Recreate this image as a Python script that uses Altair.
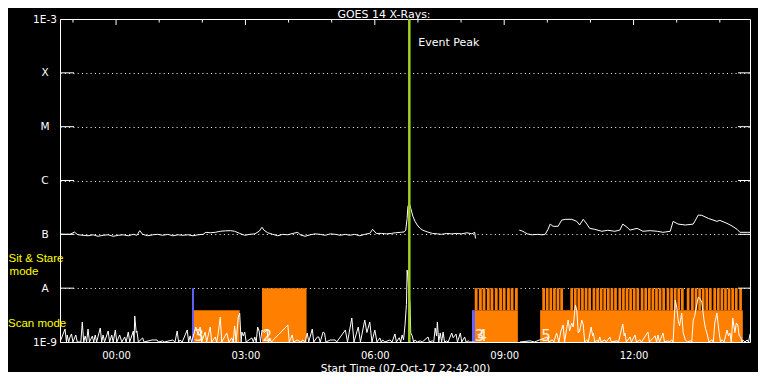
import math
import altair as alt
import pandas as pd

# ---------------- data (time = minutes after 07-Oct-17 22:42:00) ----------------
TITLE = "GOES 14 X-Rays:"
X_TITLE = "Start Time (07-Oct-17 22:42:00)"
x_domain = [0, 960]
x_tick_minutes = [78, 258, 438, 618, 798]
x_tick_labels = ["00:00", "03:00", "06:00", "09:00", "12:00"]
hour_tick_minutes = [18, 138, 198, 318, 378, 498, 558, 678, 738, 858, 918]

y_levels = [1e-9, 1e-8, 1e-7, 1e-6, 1e-5, 1e-4, 1e-3]
y_level_labels = ["1E-9", "A", "B", "C", "M", "X", "1E-3"]
inner_levels = [1e-8, 1e-7, 1e-6, 1e-5, 1e-4]

# long channel (1-8 A): (minute, flux in 1e-7 W/m2); None marks a data gap
long_points = [
    (0, 1.01), (7, 1.0), (14, 1.0), (20, 1.10), (25, 0.98), (32, 0.96), (39, 0.94), (46, 0.98),
    (53, 0.92), (60, 0.96), (67, 0.98), (74, 0.92), (81, 0.96), (88, 0.98), (95, 0.94), (102, 1.0),
    (107, 0.96), (111, 1.17), (115, 1.0), (122, 0.94), (129, 0.98), (136, 1.0), (143, 0.96),
    (150, 1.0), (157, 0.94), (164, 0.98), (171, 0.96), (178, 0.98), (185, 0.94), (192, 0.98),
    (199, 1.0), (203, 1.09), (209, 1.07), (216, 1.09), (223, 1.14), (230, 1.16), (237, 1.17),
    (243, 1.14), (250, 1.04), (257, 0.96), (264, 1.0), (271, 1.02), (277, 1.14), (281, 1.35),
    (284, 1.19), (289, 1.07), (296, 1.0), (303, 0.94), (310, 1.0), (317, 0.98), (324, 1.04),
    (331, 1.09), (334, 0.98), (341, 0.92), (348, 0.98), (355, 1.02), (362, 1.0), (369, 0.96),
    (376, 1.02), (383, 1.0), (390, 0.96), (397, 1.0), (403, 0.96), (410, 1.0), (417, 0.94),
    (424, 1.0), (431, 1.04), (435, 1.24), (440, 1.04), (447, 1.04), (454, 1.02), (461, 1.04),
    (467, 1.07), (474, 1.09), (479, 1.11), (481, 1.2), (483, 1.98), (484, 3.3), (486, 3.76),
    (488, 3.04), (491, 2.16), (494, 1.74), (497, 1.49), (501, 1.29), (505, 1.19), (511, 1.11),
    (518, 1.04), (525, 1.02), (531, 1.0), (538, 1.04), (545, 1.02), (552, 1.04), (559, 1.02),
    (566, 1.07), (573, 1.02), (577, 1.09), (578, 0.84),
    None,
    (639, 1.2), (644, 1.14), (650, 1.02), (657, 0.98), (664, 1.0), (671, 0.98), (675, 1.0),
    (679, 1.24), (682, 1.55), (686, 1.41), (693, 1.41), (698, 1.84), (703, 1.9), (712, 1.9),
    (719, 1.74), (723, 1.49), (728, 1.9), (733, 1.55), (737, 1.29), (744, 1.24), (754, 1.14),
    (762, 1.19), (772, 1.14), (779, 1.2), (783, 1.55), (789, 1.35), (793, 1.2), (803, 1.29),
    (811, 1.14), (821, 1.17), (831, 1.14), (839, 1.09), (849, 1.14), (853, 1.74), (860, 1.55),
    (870, 1.49), (881, 1.55), (888, 2.28), (893, 2.25), (902, 1.98), (914, 1.74), (918, 1.82),
    (928, 1.6), (935, 1.43), (942, 1.24), (946, 1.09), (957, 1.09), (960, 1.09),
]

# short channel (0.5-4 A): (minute, flux in 1e-9 W/m2); None marks a data gap
short_points = [
    (0, 0.8), (7, 1.74), (9, 0.8), (10, 1.35), (12, 0.8), (14, 1.24), (16, 1.41), (18, 0.8),
    (22, 1.35), (24, 0.8), (29, 0.8), (31, 2.35), (33, 0.8), (35, 1.29), (37, 0.8), (39, 1.74),
    (41, 0.8), (45, 1.29), (47, 0.8), (49, 1.35), (51, 0.8), (56, 1.82), (58, 0.8), (60, 1.35),
    (62, 0.8), (67, 1.6), (69, 0.8), (72, 1.35), (74, 0.8), (77, 1.67), (79, 0.8), (83, 1.35),
    (86, 0.8), (90, 1.24), (92, 0.8), (95, 1.53), (97, 0.8), (102, 1.6), (103, 0.8), (104, 3.04),
    (106, 1.5), (107, 1.6), (109, 0.8), (115, 1.19), (117, 0.8), (128, 1.09), (135, 1.09),
    (137, 0.8), (143, 1.05), (145, 0.8), (157, 1.09), (160, 0.8), (163, 1.6), (165, 0.8),
    (167, 1.09), (170, 0.8), (177, 1.67), (179, 0.8), (181, 1.3), (183, 0.8), (189, 1.9),
    (192, 1.4), (195, 1.9), (197, 0.8), (202, 1.53), (204, 0.8), (209, 1.9), (211, 0.8),
    (216, 1.24), (218, 0.8), (220, 1.4), (223, 2.91), (225, 0.8), (232, 1.47), (235, 0.8),
    (239, 1.19), (241, 0.8), (243, 1.98), (245, 0.8), (248, 2.91), (250, 3.45), (252, 0.8),
    (253, 1.53), (255, 1.3), (257, 1.53), (259, 0.8), (267, 1.19), (269, 0.8), (271, 1.24),
    (273, 0.8), (275, 1.9), (277, 1.6), (279, 0.8), (281, 1.67), (284, 1.5), (288, 1.67),
    (290, 0.8), (292, 1.19), (294, 0.8), (317, 2.07), (319, 0.8), (323, 1.35), (325, 0.8),
    (330, 1.09), (335, 0.8), (338, 1.09), (341, 0.8), (344, 1.47), (346, 0.8), (351, 1.74),
    (353, 0.8), (358, 1.24), (360, 1.24), (362, 0.8), (366, 1.53), (368, 1.47), (370, 0.8),
    (376, 1.09), (383, 1.09), (385, 0.8), (397, 1.67), (400, 0.8), (406, 2.79), (409, 0.8),
    (415, 1.9), (418, 0.8), (424, 2.56), (427, 1.5), (431, 2.35), (434, 0.8), (438, 1.67),
    (441, 0.8), (445, 1.19), (447, 0.8), (449, 1.09), (452, 0.8), (459, 1.09), (462, 0.8),
    (466, 1.41), (468, 0.8), (472, 1.2), (474, 0.8), (476, 1.35), (478, 1.1), (480, 2.07),
    (482, 5.0), (483, 21.7), (484, 16.1), (485, 9.2), (487, 5.0), (488, 1.47), (490, 1.3),
    (492, 0.8), (494, 1.09), (497, 0.8), (501, 1.05), (504, 0.8), (512, 1.24), (514, 0.8),
    (518, 1.05), (520, 0.8), (522, 1.82), (524, 1.3), (525, 2.35), (527, 0.8), (529, 1.47),
    (531, 0.8), (533, 1.53), (535, 0.8), (538, 1.05), (540, 0.8), (545, 1.47), (547, 1.2),
    (549, 1.3), (551, 1.4), (553, 0.8), (557, 1.47), (559, 0.8), (563, 1.24), (565, 0.8),
    (568, 1.05), (570, 0.8), (577, 0.8),
    None,
    (640, 0.8), (654, 1.05), (660, 0.8), (678, 1.24), (680, 0.8), (685, 1.1), (687, 0.8),
    (691, 1.47), (694, 0.8), (697, 1.6), (700, 2.07), (702, 0.8), (705, 1.8), (707, 2.56),
    (709, 1.6), (712, 2.25), (714, 1.9), (717, 4.86), (719, 3.92), (721, 1.47), (723, 1.6),
    (726, 2.56), (728, 2.07), (730, 0.8), (733, 1.1), (735, 0.8), (739, 1.9), (741, 1.3),
    (742, 1.47), (744, 0.8), (747, 1.09), (749, 0.8), (751, 1.24), (753, 0.8), (758, 1.1),
    (760, 0.8), (765, 1.24), (767, 0.8), (775, 1.05), (777, 0.8), (783, 2.16), (785, 1.3),
    (786, 1.47), (788, 0.8), (793, 1.24), (795, 0.8), (800, 1.35), (802, 0.8), (807, 1.1),
    (809, 0.8), (818, 1.53), (820, 0.8), (828, 1.3), (830, 0.8), (832, 1.35), (834, 0.8),
    (839, 1.47), (841, 0.8), (846, 1.05), (848, 0.8), (851, 1.1), (853, 0.8), (856, 6.0),
    (858, 4.46), (860, 2.56), (862, 2.0), (865, 3.45), (867, 1.5), (870, 1.1), (873, 0.8),
    (877, 1.05), (879, 0.8), (881, 2.56), (883, 3.0), (885, 4.27), (888, 6.8), (890, 6.5),
    (893, 5.5), (896, 2.56), (898, 1.8), (900, 1.47), (903, 0.8), (907, 1.1), (909, 0.8),
    (911, 2.25), (914, 3.45), (915, 2.56), (917, 1.5), (919, 0.8), (921, 1.1), (924, 0.8),
    (928, 1.67), (930, 1.3), (932, 1.47), (934, 0.8), (936, 2.79), (939, 1.5), (941, 2.25),
    (943, 2.07), (945, 1.3), (947, 1.24), (949, 0.8), (950, 1.09), (953, 0.8), (956, 1.09),
    (958, 0.8), (960, 1.41),
]

# observing-mode blocks (start, end minute)
scan_blocks = [(186, 250), (577, 637), (668, 950)]
stare_blocks = [(281, 343)]
scan_top = 3.9e-9
stare_top = 1e-8
switch_markers = [(183.7, 186.4, 1e-8), (573.2, 577.4, 3.9e-9)]
stripes_a = [577, 583, 588, 594, 599, 605, 611, 616, 622, 627, 633]
stripes_b = [671, 676, 681, 686, 691, 696, 710, 715, 720, 725, 730, 735, 741, 746, 751, 756,
             761, 766, 771, 777, 782, 787, 792, 797, 802, 808, 813, 818, 823, 828, 833, 838,
             844, 849, 854, 859, 864, 872, 878, 883, 888, 893, 898, 903, 909, 914, 919, 924,
             929, 934, 939, 945]
block_numbers = [(186, "3"), (281, "2"), (576.5, "3"), (580, "4"), (669, "5")]
event_peak_minute = 486

# ---------------- styles ----------------
ORANGE = "#ff8000"
BLUE = "#6464ff"
YELLOW = "#ffff00"
EVENT = "#a0d020"
FONT = "DejaVu Sans"
W, H = 690, 323


def to_frame(points, unit):
    rows, seg = [], 0
    for p in points:
        if p is None:
            seg += 1
            continue
        rows.append({"t": p[0], "flux": p[1] * unit, "seg": seg})
    return pd.DataFrame(rows)


long_df = to_frame(long_points, 1e-7)
short_df = to_frame(short_points, 1e-9)

rects = [{"x0": a, "x1": b, "y0": 1e-9, "y1": scan_top} for a, b in scan_blocks]
rects += [{"x0": a, "x1": b, "y0": 1e-9, "y1": stare_top} for a, b in stare_blocks]
rects += [{"x0": s, "x1": s + 3.9, "y0": scan_top, "y1": stare_top} for s in stripes_a]
rects += [{"x0": s, "x1": s + 3.75, "y0": scan_top, "y1": stare_top} for s in stripes_b]
rect_df = pd.DataFrame(rects)
blue_df = pd.DataFrame([{"x0": a, "x1": b, "y0": 1e-9, "y1": top} for a, b, top in switch_markers])
num_df = pd.DataFrame([{"t": t, "label": l, "y": 1e-9} for t, l in block_numbers])

x_expr = " : ".join(f"datum.value == {m} ? '{l}'" for m, l in zip(x_tick_minutes, x_tick_labels)) + " : ''"
y_expr = " : ".join(
    f"round(log(datum.value) / LN10) == {round(math.log10(v))} ? '{l}'"
    for v, l in zip(y_levels, y_level_labels)
) + " : ''"

xs = alt.Scale(domain=x_domain, nice=False, zero=False)
ys = alt.Scale(type="log", domain=[1e-9, 1e-3], nice=False, clamp=True)

X_AXIS = alt.Axis(values=x_tick_minutes, labelExpr=x_expr, ticks=False, domain=False, grid=False,
                  labelColor="white", labelFont=FONT, labelFontSize=10, labelPadding=8,
                  title=X_TITLE, titleColor="white", titleFont=FONT, titleFontSize=10.5,
                  titleFontWeight="normal", titlePadding=3)
Y_AXIS = alt.Axis(values=y_levels, labelExpr=y_expr, ticks=False, domain=False, grid=True,
                  gridColor="white", gridDash=[1, 3.3], gridOpacity=1, gridWidth=1,
                  labelColor="white", labelFont=FONT, labelFontSize=10.5, labelAlign="center",
                  labelBaseline="middle", labelPadding=15.5, title=None)


def X(field):
    return alt.X(field, scale=xs, axis=X_AXIS)


def Y(field):
    return alt.Y(field, scale=ys, axis=Y_AXIS)


modes = alt.Chart(rect_df).mark_rect(color=ORANGE).encode(
    x=X("x0:Q"), x2="x1:Q", y=Y("y0:Q"), y2="y1:Q")
blues = alt.Chart(blue_df).mark_rect(color=BLUE).encode(
    x=X("x0:Q"), x2="x1:Q", y=Y("y0:Q"), y2="y1:Q")
nums = alt.Chart(num_df).mark_text(align="left", baseline="alphabetic", dx=0.5, dy=-1,
                                   font=FONT, fontSize=15, color="#fff0e0").encode(
    x=X("t:Q"), y=Y("y:Q"), text="label:N")

level_df = pd.DataFrame({"level": inner_levels})
left_ticks = alt.Chart(level_df).mark_rule(color="white").encode(
    x=alt.value(0), x2=alt.value(14), y=Y("level:Q"))
right_ticks = alt.Chart(level_df).mark_rule(color="white").encode(
    x=alt.value(W - 12), x2=alt.value(W), y=Y("level:Q"))
top_major = alt.Chart(pd.DataFrame({"t": x_tick_minutes})).mark_rule(color="white").encode(
    x=X("t:Q"), y=alt.value(0), y2=alt.value(6))
top_minor = alt.Chart(pd.DataFrame({"t": hour_tick_minutes})).mark_rule(color="white").encode(
    x=X("t:Q"), y=alt.value(0), y2=alt.value(3.5))

short_line = alt.Chart(short_df).mark_line(color="white", strokeWidth=1, clip=True).encode(
    x=X("t:Q"), y=Y("flux:Q"), detail="seg:N")
long_line = alt.Chart(long_df).mark_line(color="white", strokeWidth=1, clip=True).encode(
    x=X("t:Q"), y=Y("flux:Q"), detail="seg:N")

ev_df = pd.DataFrame({"t": [event_peak_minute], "label": ["Event Peak"]})
ev_line = alt.Chart(ev_df).mark_rule(color=EVENT, strokeWidth=2.5).encode(x=X("t:Q"))
ev_text = alt.Chart(ev_df).mark_text(align="left", baseline="middle", dx=9, font=FONT,
                                     fontSize=11, color="white").encode(
    x=X("t:Q"), y=alt.value(24), text="label:N")

note_df = pd.DataFrame({"txt": [TITLE]})
title_text = alt.Chart(note_df).mark_text(align="center", baseline="alphabetic", font=FONT,
                                          fontSize=11, color="white").encode(
    x=alt.value(324), y=alt.value(-1.5), text="txt:N")
ss1 = alt.Chart(pd.DataFrame({"txt": ["Sit & Stare"]})).mark_text(
    align="center", baseline="middle", font="Liberation Sans", fontSize=11.5, color=YELLOW).encode(
    x=alt.value(-24), y=alt.value(240), text="txt:N")
ss2 = alt.Chart(pd.DataFrame({"txt": ["mode"]})).mark_text(
    align="center", baseline="middle", font="Liberation Sans", fontSize=11.5, color=YELLOW).encode(
    x=alt.value(-36), y=alt.value(252.5), text="txt:N")
scan_lbl = alt.Chart(pd.DataFrame({"txt": ["Scan mode"]})).mark_text(
    align="left", baseline="middle", font="Liberation Sans", fontSize=11.5, color=YELLOW).encode(
    x=alt.value(-52), y=alt.value(305), text="txt:N")

chart = alt.layer(
    modes, blues, nums, left_ticks, right_ticks, top_major, top_minor,
    short_line, long_line, ev_line, ev_text, title_text, ss1, ss2, scan_lbl,
).properties(
    width=W, height=H,
    autosize=alt.AutoSizeParams(type="none"),
    padding={"left": 52, "top": 11, "right": 8, "bottom": 30},
).configure(background="black").configure_view(stroke="white", strokeWidth=1, fill="black")

chart.save("out.html", embed_options={"renderer": "svg", "actions": False})
